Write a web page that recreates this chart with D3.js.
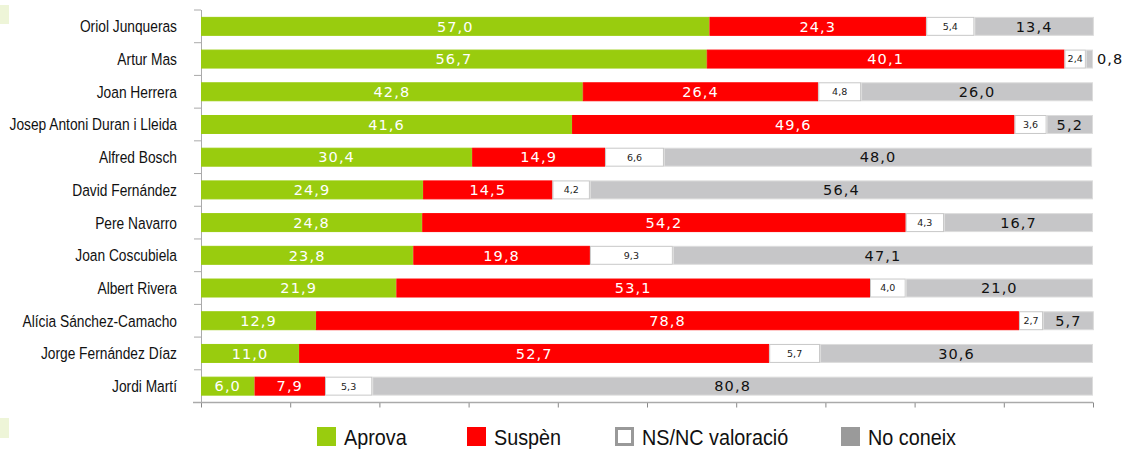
<!DOCTYPE html>
<html lang="ca">
<head>
    <meta charset="UTF-8">
    <script src="https://d3js.org/d3.v7.min.js"></script>
    <style>
        body { margin: 0; background: #fff; }
        .name { font: 17px "Liberation Sans Narrow", "Arial Narrow", "Liberation Sans", sans-serif; fill: #111; }
        .val { font: 14.5px "DejaVu Sans", Verdana, sans-serif; letter-spacing: 1.1px; }
        .small { font: 9.5px "DejaVu Sans", Verdana, sans-serif; fill: #222; }
        .leg { font: 22px "Liberation Sans Narrow", "Arial Narrow", "Liberation Sans", sans-serif; fill: #111; }
    </style>
    <title>Valoració de líders</title>
</head>
<body>
    <script>
        const width = 1141;
        const height = 449;

        // Data
        const leaders = [
            "Oriol Junqueras", "Artur Mas", "Joan Herrera", "Josep Antoni Duran i Lleida",
            "Alfred Bosch", "David Fernández", "Pere Navarro", "Joan Coscubiela",
            "Albert Rivera", "Alícia Sánchez-Camacho", "Jorge Fernández Díaz", "Jordi Martí"
        ];
        const aprova   = [57.0, 56.7, 42.8, 41.6, 30.4, 24.9, 24.8, 23.8, 21.9, 12.9, 11.0, 6.0];
        const suspen   = [24.3, 40.1, 26.4, 49.6, 14.9, 14.5, 54.2, 19.8, 53.1, 78.8, 52.7, 7.9];
        const nsnc     = [5.4, 2.4, 4.8, 3.6, 6.6, 4.2, 4.3, 9.3, 4.0, 2.7, 5.7, 5.3];
        const noConeix = [13.4, 0.8, 26.0, 5.2, 48.0, 56.4, 16.7, 47.1, 21.0, 5.7, 30.6, 80.8];
        const seriesNames = ["Aprova", "Suspèn", "NS/NC valoració", "No coneix"];
        const xTicks = [0, 10, 20, 30, 40, 50, 60, 70, 80, 90, 100];

        const fills = ["#99cc0e", "#ff0000", "#ffffff", "#c6c6c8"];
        const strokes = ["#99cc0e", "#ff0000", "#c8c8c8", "#dcdcdc"];
        const textColors = ["#fff", "#fff", "#222", "#111"];

        const svg = d3.select("body").append("svg")
            .attr("width", width)
            .attr("height", height);

        // decorative pale squares on the left edge
        svg.append("rect").attr("x", 0).attr("y", 5).attr("width", 9).attr("height", 19).attr("fill", "#eef5d8");
        svg.append("rect").attr("x", 0).attr("y", 418).attr("width", 9).attr("height", 20).attr("fill", "#eef5d8");

        const x = d3.scaleLinear().domain([0, 100]).range([201, 1093]);
        const y = d3.scaleBand().domain(leaders).range([10, 402.5]).paddingInner(0.42).paddingOuter(0.21);

        const rows = leaders.map((name, i) => {
            const vals = [aprova[i], suspen[i], nsnc[i], noConeix[i]];
            let acc = 0;
            return { name, segs: vals.map((v, k) => { const s = { k, v, x0: acc, x1: acc + v }; acc += v; return s; }) };
        });

        // axes
        const gx = svg.append("g").attr("transform", "translate(0,402.5)")
            .call(d3.axisBottom(x).tickValues(xTicks).tickSize(5).tickFormat(""));
        gx.select(".domain").remove();
        gx.selectAll("line").attr("stroke", "#888");
        svg.append("line").attr("x1", 193).attr("x2", 1093).attr("y1", 402.5).attr("y2", 402.5)
            .attr("stroke", "#aaa").attr("stroke-width", 1.5);

        const bandEdges = leaders.map(d => y(d) - y.step() * y.paddingInner() / 2).concat([402.5]);
        svg.append("line").attr("x1", 201.5).attr("x2", 201.5).attr("y1", 10).attr("y2", 402.5).attr("stroke", "#aaa");
        svg.selectAll(".ytick").data(bandEdges).enter().append("line")
            .attr("x1", 194).attr("x2", 201).attr("y1", d => d).attr("y2", d => d).attr("stroke", "#aaa");

        // names (condensed look)
        svg.selectAll(".name").data(leaders).enter().append("text")
            .attr("class", "name")
            .attr("transform", d => `translate(177,${y(d) + y.bandwidth() / 2}) scale(0.81,1)`)
            .attr("dy", "0.35em")
            .attr("text-anchor", "end")
            .text(d => d);

        const row = svg.selectAll(".row").data(rows).enter().append("g")
            .attr("transform", d => `translate(0,${y(d.name)})`);

        row.selectAll("rect").data(d => d.segs).enter().append("rect")
            .attr("x", d => x(d.x0) + 0.5)
            .attr("y", 0.5)
            .attr("width", d => Math.max(0, x(d.x1) - x(d.x0) - 1))
            .attr("height", y.bandwidth() - 1)
            .attr("fill", d => fills[d.k])
            .attr("stroke", d => strokes[d.k]);

        row.selectAll("text").data(d => d.segs).enter().append("text")
            .attr("class", d => d.k === 2 ? "small" : "val")
            .attr("x", d => d.v < 2 ? x(100) + 4 : (x(d.x0) + x(d.x1)) / 2)
            .attr("y", y.bandwidth() / 2)
            .attr("dy", "0.36em")
            .attr("text-anchor", d => d.v < 2 ? "start" : "middle")
            .attr("fill", d => d.v < 2 ? "#111" : textColors[d.k])
            .text(d => d3.format(".1f")(d.v).replace(".", ","));

        // legend
        const legX = [317, 467, 615, 841];
        const leg = svg.selectAll(".legitem").data(seriesNames).enter().append("g")
            .attr("transform", (d, i) => `translate(${legX[i]},427)`);
        leg.append("rect")
            .attr("x", (d, i) => i === 2 ? 1.5 : 0)
            .attr("y", (d, i) => i === 2 ? 1.5 : 0)
            .attr("width", (d, i) => i === 2 ? 16 : 19)
            .attr("height", (d, i) => i === 2 ? 16 : 19)
            .attr("fill", (d, i) => ["#99cc0e", "#ff0000", "#ffffff", "#9a9a9a"][i])
            .attr("stroke", (d, i) => i === 2 ? "#999" : "none")
            .attr("stroke-width", 3);
        leg.append("text")
            .attr("class", "leg")
            .attr("transform", "translate(27,10) scale(0.9,1)")
            .attr("dy", "0.35em")
            .text(d => d);
    </script>
</body>
</html>
